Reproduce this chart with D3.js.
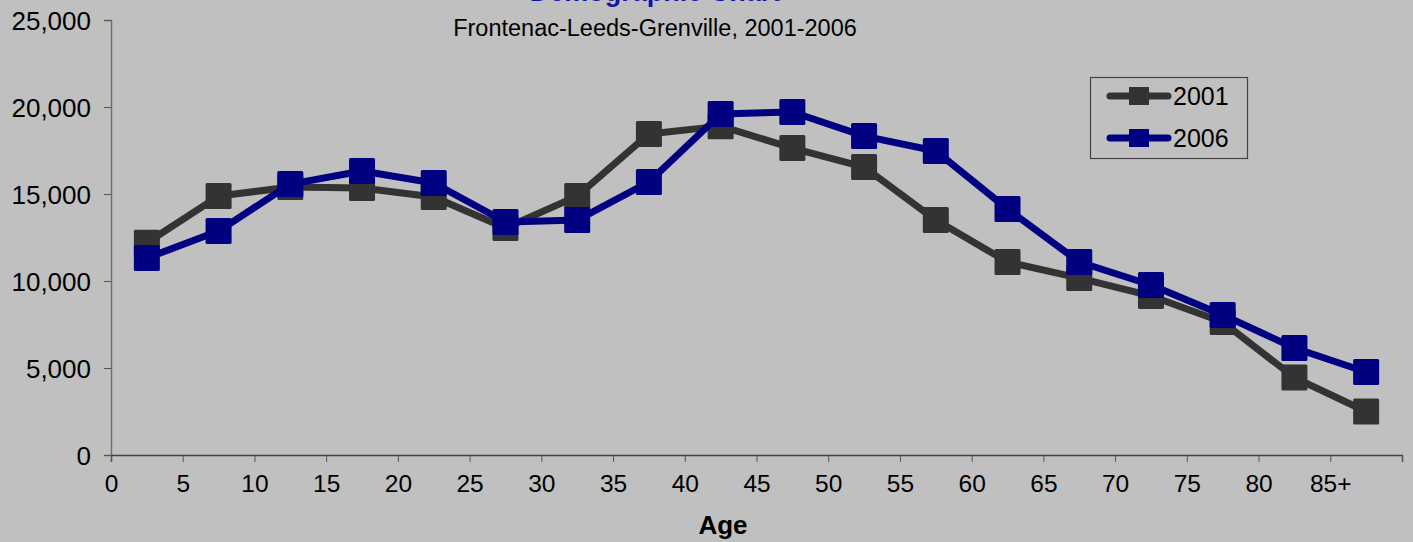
<!DOCTYPE html>
<html>
<head>
<meta charset="utf-8">
<script src="https://cdn.jsdelivr.net/npm/d3@7"></script>
<style>
html,body{margin:0;padding:0;background:#c0c0c0;}
svg{display:block;font-family:"Liberation Sans",Arial,sans-serif;}
</style>
</head>
<body>
<svg id="chart" width="1413" height="542"></svg>
<script>
const ageGroups = ["0-4","5-9","10-14","15-19","20-24","25-29","30-34","35-39","40-44","45-49","50-54","55-59","60-64","65-69","70-74","75-79","80-84","85+"];
const values2001 = [12200,14880,15400,15350,14830,13050,14880,18450,18900,17640,16550,13500,11090,10170,9140,7640,4450,2500];
const values2006 = [11320,12870,15570,16320,15630,13390,13500,15690,19600,19710,18330,17470,14140,11090,9770,8050,6150,4770];
const xTickValues = [0,5,10,15,20,25,30,35,40,45,50,55,60,65,70,75,80,85,90];
const xTickLabels = ["0","5","10","15","20","25","30","35","40","45","50","55","60","65","70","75","80","85+",""];
const yTickValues = [0,5000,10000,15000,20000,25000];
const seriesNames = ["2001","2006"];
const seriesColors = ["#333333","#000080"];

const svg = d3.select("#chart");
const plotLeft = 111, plotRight = 1402, plotTop = 20, plotBottom = 455;

const x = d3.scaleLinear().domain([0,90]).range([plotLeft,plotRight]);
const y = d3.scaleLinear().domain([0,25000]).range([plotBottom,plotTop]);
const mid = i => x(i*5 + 2.5);

// Title (cropped at top, as in the reference)
svg.append("text").attr("x",655).attr("y",1).attr("text-anchor","middle")
  .attr("font-size",27).attr("font-weight","bold").attr("fill","#1414a0").text("Demographic Chart");
svg.append("text").attr("x",655).attr("y",36).attr("text-anchor","middle")
  .attr("font-size",23.5).attr("fill","#000").text("Frontenac-Leeds-Grenville, 2001-2006");

// Y axis
const yAxis = d3.axisLeft(y).tickValues(yTickValues).tickSize(7).tickPadding(13)
  .tickFormat(d3.format(","));
const gy = svg.append("g").attr("transform",`translate(${plotLeft},0)`).call(yAxis);
gy.select(".domain").attr("stroke","#707070").attr("stroke-width",1.5);
gy.selectAll(".tick line").attr("stroke","#555");
gy.selectAll(".tick text").attr("font-size",26).attr("fill","#000").attr("font-family","Liberation Sans, Arial, sans-serif").attr("dy","0.36em");

// X axis
const xAxis = d3.axisBottom(x).tickValues(xTickValues).tickSize(7).tickPadding(13)
  .tickFormat((d,i) => xTickLabels[i]);
const gx = svg.append("g").attr("transform",`translate(0,${plotBottom})`).call(xAxis);
gx.select(".domain").attr("stroke","#404040").attr("stroke-width",1.5);
gx.selectAll(".tick line").attr("stroke","#555");
gx.selectAll(".tick text").attr("font-size",24.5).attr("fill","#000").attr("font-family","Liberation Sans, Arial, sans-serif");

// Axis title
svg.append("text").attr("x",723).attr("y",534).attr("text-anchor","middle")
  .attr("font-size",26).attr("font-weight","bold").attr("fill","#000").text("Age");

// Series
const allSeries = [values2001, values2006];
const line = d3.line().x((d,i)=>mid(i)).y(d=>y(d));
const msize = 26;
allSeries.forEach((vals, s) => {
  const g = svg.append("g");
  g.append("path").datum(vals).attr("d",line).attr("fill","none")
    .attr("stroke",seriesColors[s]).attr("stroke-width",7).attr("stroke-linejoin","round");
  g.selectAll("rect").data(vals).join("rect")
    .attr("x",(d,i)=>mid(i)-msize/2).attr("y",d=>y(d)-msize/2)
    .attr("width",msize).attr("height",msize).attr("rx",1.5)
    .attr("fill",seriesColors[s]);
});

// Legend
const lg = svg.append("g");
lg.append("rect").attr("x",1090.5).attr("y",77.5).attr("width",157).attr("height",81)
  .attr("fill","none").attr("stroke","#444").attr("stroke-width",1.2);
seriesNames.forEach((name,s) => {
  const ly = 96 + s*42;
  lg.append("line").attr("x1",1110).attr("x2",1168).attr("y1",ly).attr("y2",ly)
    .attr("stroke",seriesColors[s]).attr("stroke-width",7).attr("stroke-linecap","round");
  lg.append("rect").attr("x",1129).attr("y",ly-9).attr("width",20).attr("height",18)
    .attr("fill",seriesColors[s]);
  lg.append("text").attr("x",1173).attr("y",ly+9).attr("font-size",25).attr("fill","#000").text(name);
});
</script>
</body>
</html>
